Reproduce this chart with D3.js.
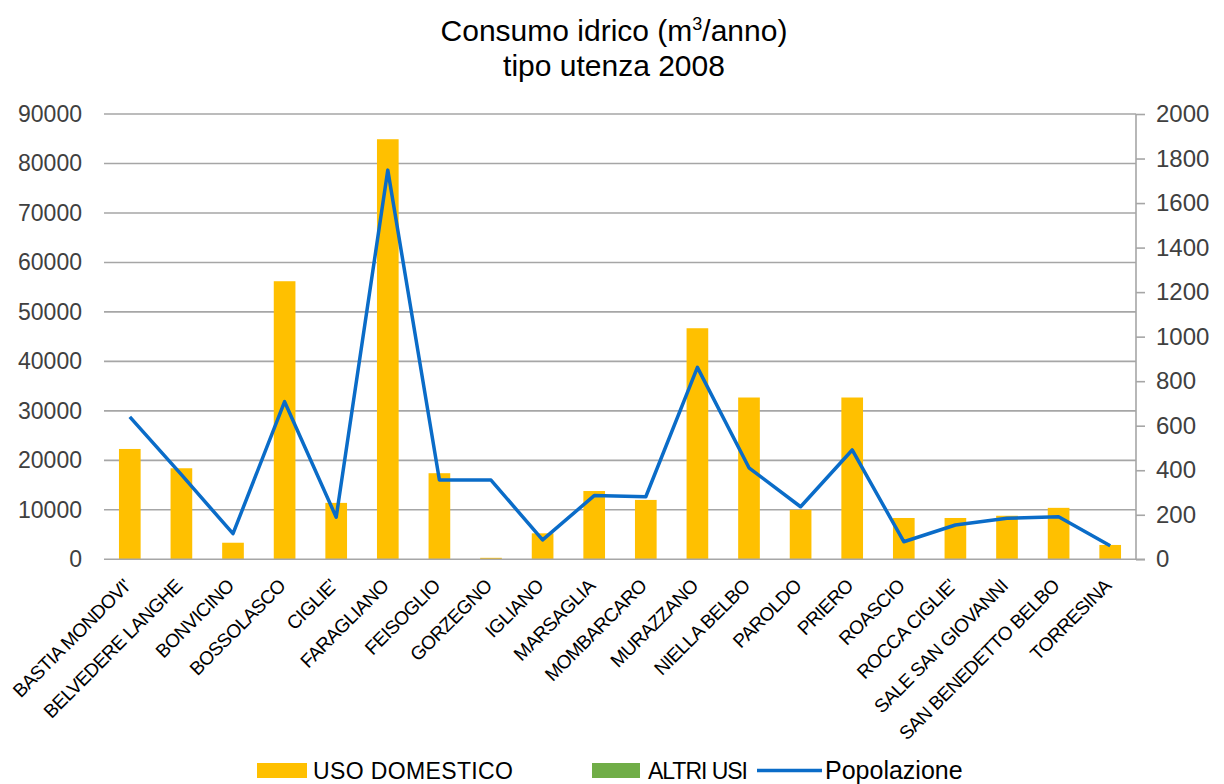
<!DOCTYPE html>
<html>
<head>
<meta charset="utf-8">
<script src="https://cdn.jsdelivr.net/npm/d3@7"></script>
<style>
  html, body { margin: 0; padding: 0; background: #fff; }
  svg { display: block; }
  text { font-family: "Liberation Sans", Arial, sans-serif; }
</style>
</head>
<body>
<svg id="chart" width="1224" height="784"></svg>
<script>
const categories = ["BASTIA MONDOVI'", "BELVEDERE LANGHE", "BONVICINO", "BOSSOLASCO", "CIGLIE'",
  "FARAGLIANO", "FEISOGLIO", "GORZEGNO", "IGLIANO", "MARSAGLIA", "MOMBARCARO", "MURAZZANO",
  "NIELLA BELBO", "PAROLDO", "PRIERO", "ROASCIO", "ROCCA CIGLIE'", "SALE SAN GIOVANNI",
  "SAN BENEDETTO BELBO", "TORRESINA"];
const usoDomestico = [22300, 18400, 3350, 56200, 11400, 84900, 17400, 300, 5250, 13800, 12000,
  46700, 32700, 10000, 32700, 8350, 8350, 8800, 10400, 2900];
const altriUsi = [0, 0, 0, 0, 0, 0, 0, 0, 0, 0, 0, 0, 0, 0, 0, 0, 0, 0, 0, 0];
const popolazione = [640, 380, 115, 708, 189, 1748, 356, 356, 87, 286, 281, 862, 411, 236, 491,
  79, 154, 184, 191, 61];
const leftTicks = [0, 10000, 20000, 30000, 40000, 50000, 60000, 70000, 80000, 90000];
const rightTicks = [0, 200, 400, 600, 800, 1000, 1200, 1400, 1600, 1800, 2000];
const titleLine1 = "Consumo idrico (m";
const titleSup = "3";
const titleLine1End = "/anno)";
const titleLine2 = "tipo utenza 2008";
const seriesNames = ["USO DOMESTICO", "ALTRI USI", "Popolazione"];

const svg = d3.select("#chart");
const X0 = 104, X1 = 1136, YT = 114, YB = 559.3;
const gridColor = "#a6a6a6", textColor = "#404040";
const FONT = "'Liberation Sans', Arial, sans-serif";

const x = d3.scaleBand().domain(categories).range([X0, X1]).paddingInner(0.58).paddingOuter(0.29);
const yL = d3.scaleLinear().domain([0, 90000]).range([YB, YT]);
const yR = d3.scaleLinear().domain([0, 2000]).range([YB, YT]);

// gridlines
svg.append("g").selectAll("line").data(leftTicks.filter(d => d > 0)).join("line")
  .attr("x1", X0).attr("x2", X1)
  .attr("y1", d => yL(d)).attr("y2", d => yL(d))
  .attr("stroke", gridColor).attr("stroke-width", 1.6);

// left axis labels
const gL = svg.append("g").attr("transform", `translate(${X0},0)`)
  .call(d3.axisLeft(yL).tickValues(leftTicks).tickSize(0).tickPadding(22).tickFormat(d3.format("d")));
gL.select(".domain").remove();
gL.selectAll("text").attr("font-size", 23).attr("fill", textColor).style("font-family", FONT);

// bars
const cx = d => x(d) + x.bandwidth() / 2;
svg.append("g").selectAll("rect").data(categories).join("rect")
  .attr("x", d => x(d)).attr("width", x.bandwidth())
  .attr("y", (d, i) => yL(usoDomestico[i]))
  .attr("height", (d, i) => YB - yL(usoDomestico[i]))
  .attr("fill", "#ffc000");
svg.append("g").selectAll("rect").data(categories).join("rect")
  .attr("x", d => x(d)).attr("width", x.bandwidth())
  .attr("y", (d, i) => yL(usoDomestico[i] + altriUsi[i]))
  .attr("height", (d, i) => yL(usoDomestico[i]) - yL(usoDomestico[i] + altriUsi[i]))
  .attr("fill", "#70ad47");

// bottom axis line
svg.append("line").attr("x1", X0).attr("x2", X1 + 9).attr("y1", YB).attr("y2", YB)
  .attr("stroke", gridColor).attr("stroke-width", 1.6);

// right axis
const gR = svg.append("g").attr("transform", `translate(${X1},0)`)
  .call(d3.axisRight(yR).tickValues(rightTicks).tickSize(9).tickPadding(11).tickFormat(d3.format("d")));
gR.select(".domain").attr("stroke", gridColor).attr("stroke-width", 1.6)
  .attr("d", `M0,${YT}V${YB}`);
gR.selectAll(".tick line").attr("stroke", gridColor).attr("stroke-width", 1.6);
gR.selectAll("text").attr("font-size", 24).attr("fill", textColor).style("font-family", FONT);

// line
const line = d3.line().x((d, i) => cx(categories[i])).y(d => yR(d));
svg.append("path").datum(popolazione).attr("d", line)
  .attr("fill", "none").attr("stroke", "#0a6cc8").attr("stroke-width", 3.5)
  .attr("stroke-linejoin", "round");

// x labels
svg.append("g").selectAll("text").data(categories).join("text")
  .attr("transform", d => `translate(${cx(d) + 2},${YB + 28}) rotate(-45)`)
  .attr("text-anchor", "end").attr("font-size", 19).attr("fill", "#000")
  .attr("letter-spacing", -0.6)
  .text(d => d);

// title
const t1 = svg.append("text").attr("x", 614).attr("y", 41).attr("text-anchor", "middle")
  .attr("font-size", 30).attr("fill", "#000");
t1.append("tspan").text(titleLine1);
t1.append("tspan").attr("dy", -11).attr("font-size", 18).text(titleSup);
t1.append("tspan").attr("dy", 11).text(titleLine1End);
svg.append("text").attr("x", 614).attr("y", 76).attr("text-anchor", "middle")
  .attr("font-size", 30).attr("fill", "#000").text(titleLine2);

// legend
const lg = svg.append("g");
lg.append("rect").attr("x", 257).attr("y", 763).attr("width", 50).attr("height", 15).attr("fill", "#ffc000");
lg.append("text").attr("x", 313).attr("y", 779).attr("font-size", 23).attr("fill", "#000")
  .attr("textLength", 200).text(seriesNames[0]);
lg.append("rect").attr("x", 592).attr("y", 763).attr("width", 48).attr("height", 15).attr("fill", "#70ad47");
lg.append("text").attr("x", 648).attr("y", 779).attr("font-size", 23).attr("fill", "#000")
  .attr("textLength", 100).text(seriesNames[1]);
lg.append("line").attr("x1", 757).attr("x2", 822).attr("y1", 770.5).attr("y2", 770.5)
  .attr("stroke", "#0a6cc8").attr("stroke-width", 3.5);
lg.append("text").attr("x", 825).attr("y", 779).attr("font-size", 25).attr("fill", "#000")
  .text(seriesNames[2]);
</script>
</body>
</html>
